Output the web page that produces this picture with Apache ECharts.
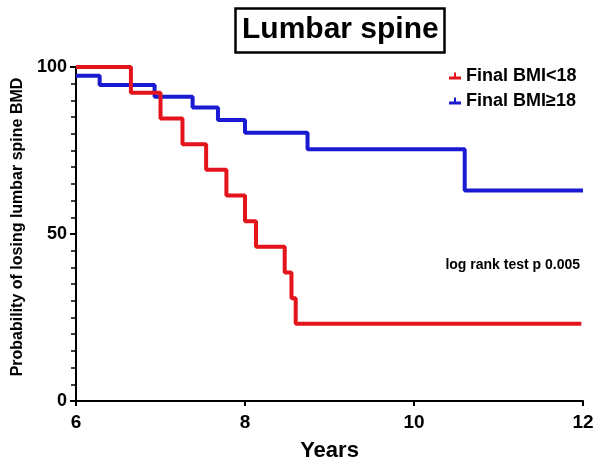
<!DOCTYPE html>
<html>
<head>
<meta charset="utf-8">
<script src="https://cdn.jsdelivr.net/npm/echarts@6/dist/echarts.min.js"></script>
<style>html,body{margin:0;padding:0;background:#fff}#c{width:603px;height:461px}</style>
</head>
<body>
<div id="c"></div>
<script>
// Kaplan-Meier style step data (time in years, probability %)
const redTimes  = [6, 6.65, 7.0, 7.26, 7.54, 7.78, 8.0, 8.13, 8.47, 8.55, 8.6, 11.98];
const redValues = [100, 92.3, 84.6, 76.9, 69.2, 61.5, 53.8, 46.2, 38.5, 30.8, 23.1, 23.1];
const blueTimes  = [6, 6.28, 6.93, 7.38, 7.68, 8.0, 8.74, 10.6, 12];
const blueValues = [97.4, 94.6, 91.1, 87.9, 84.1, 80.3, 75.4, 63.0, 63.0];
const seriesNames = ['Final BMI<18', 'Final BMI\u226518'];
const titleText = 'Lumbar spine';
const noteText = 'log rank test p 0.005';
const xName = 'Years';
const yName = 'Probability of losing lumbar spine BMD';

const FONT = "'Liberation Sans', Arial, sans-serif";
const RED = '#e3141b';
const BLUE = '#1a1ad2';
const icon = 'path://M0,6 L12,6 L12,9 L0,9 Z M5,2 L7,2 L7,6 L5,6 Z';

const chart = echarts.init(document.getElementById('c'), null, {renderer: 'canvas'});
chart.setOption({
  animation: false,
  backgroundColor: '#fff',
  textStyle: {fontFamily: FONT},
  title: {
    text: titleText,
    left: 235, top: 8,
    padding: [5, 6, 6, 7],
    borderColor: '#000', borderWidth: 2.5,
    textStyle: {fontFamily: FONT, fontSize: 30, fontWeight: 'bold', color: '#000', lineHeight: 34}
  },
  legend: {
    orient: 'vertical',
    left: 444, top: 62,
    itemWidth: 12, itemHeight: 9, itemGap: 7,
    textStyle: {fontFamily: FONT, fontSize: 18, fontWeight: 'bold', color: '#000'},
    data: [
      {name: seriesNames[0], icon: icon},
      {name: seriesNames[1], icon: icon}
    ]
  },
  grid: {left: 76, right: 20, top: 67, bottom: 60, containLabel: false, outerBoundsMode: 'none'},
  xAxis: {
    type: 'value', min: 6, max: 12, interval: 2,
    name: xName, nameLocation: 'middle', nameGap: 39,
    nameTextStyle: {fontFamily: FONT, fontSize: 22, fontWeight: 'bold', color: '#000'},
    axisLine: {show: true, lineStyle: {color: '#000', width: 2}},
    axisTick: {show: true, length: 5, lineStyle: {color: '#000', width: 2}},
    axisLabel: {margin: 12, fontFamily: FONT, fontSize: 19, fontWeight: 'bold', color: '#000'},
    splitLine: {show: false}
  },
  yAxis: {
    type: 'value', min: 0, max: 100, interval: 50,
    name: yName, nameLocation: 'middle', nameGap: 46,
    nameTextStyle: {fontFamily: FONT, fontSize: 16, fontWeight: 'bold', color: '#000', padding: [0, 0, 0, 14]},
    axisLine: {show: true, lineStyle: {color: '#000', width: 2}},
    axisTick: {show: true, length: 6, lineStyle: {color: '#000', width: 2}},
    minorTick: {show: true, splitNumber: 10, length: 5, lineStyle: {color: '#000', width: 1.5}},
    axisLabel: {margin: 9, fontFamily: FONT, fontSize: 18, fontWeight: 'bold', color: '#000'},
    splitLine: {show: false}
  },
  graphic: [{
    type: 'text', right: 23, top: 258,
    style: {text: noteText, font: 'bold 14px ' + FONT, fill: '#000'}
  }],
  series: [
    {
      name: seriesNames[0], type: 'line', step: 'end', z: 3,
      showSymbol: false, symbol: 'none',
      itemStyle: {color: RED},
      lineStyle: {color: RED, width: 4},
      data: redTimes.map((t, i) => [t, redValues[i]])
    },
    {
      name: seriesNames[1], type: 'line', step: 'end', z: 2,
      showSymbol: false, symbol: 'none',
      itemStyle: {color: BLUE},
      lineStyle: {color: BLUE, width: 4},
      data: blueTimes.map((t, i) => [t, blueValues[i]])
    }
  ]
});
</script>
</body>
</html>
